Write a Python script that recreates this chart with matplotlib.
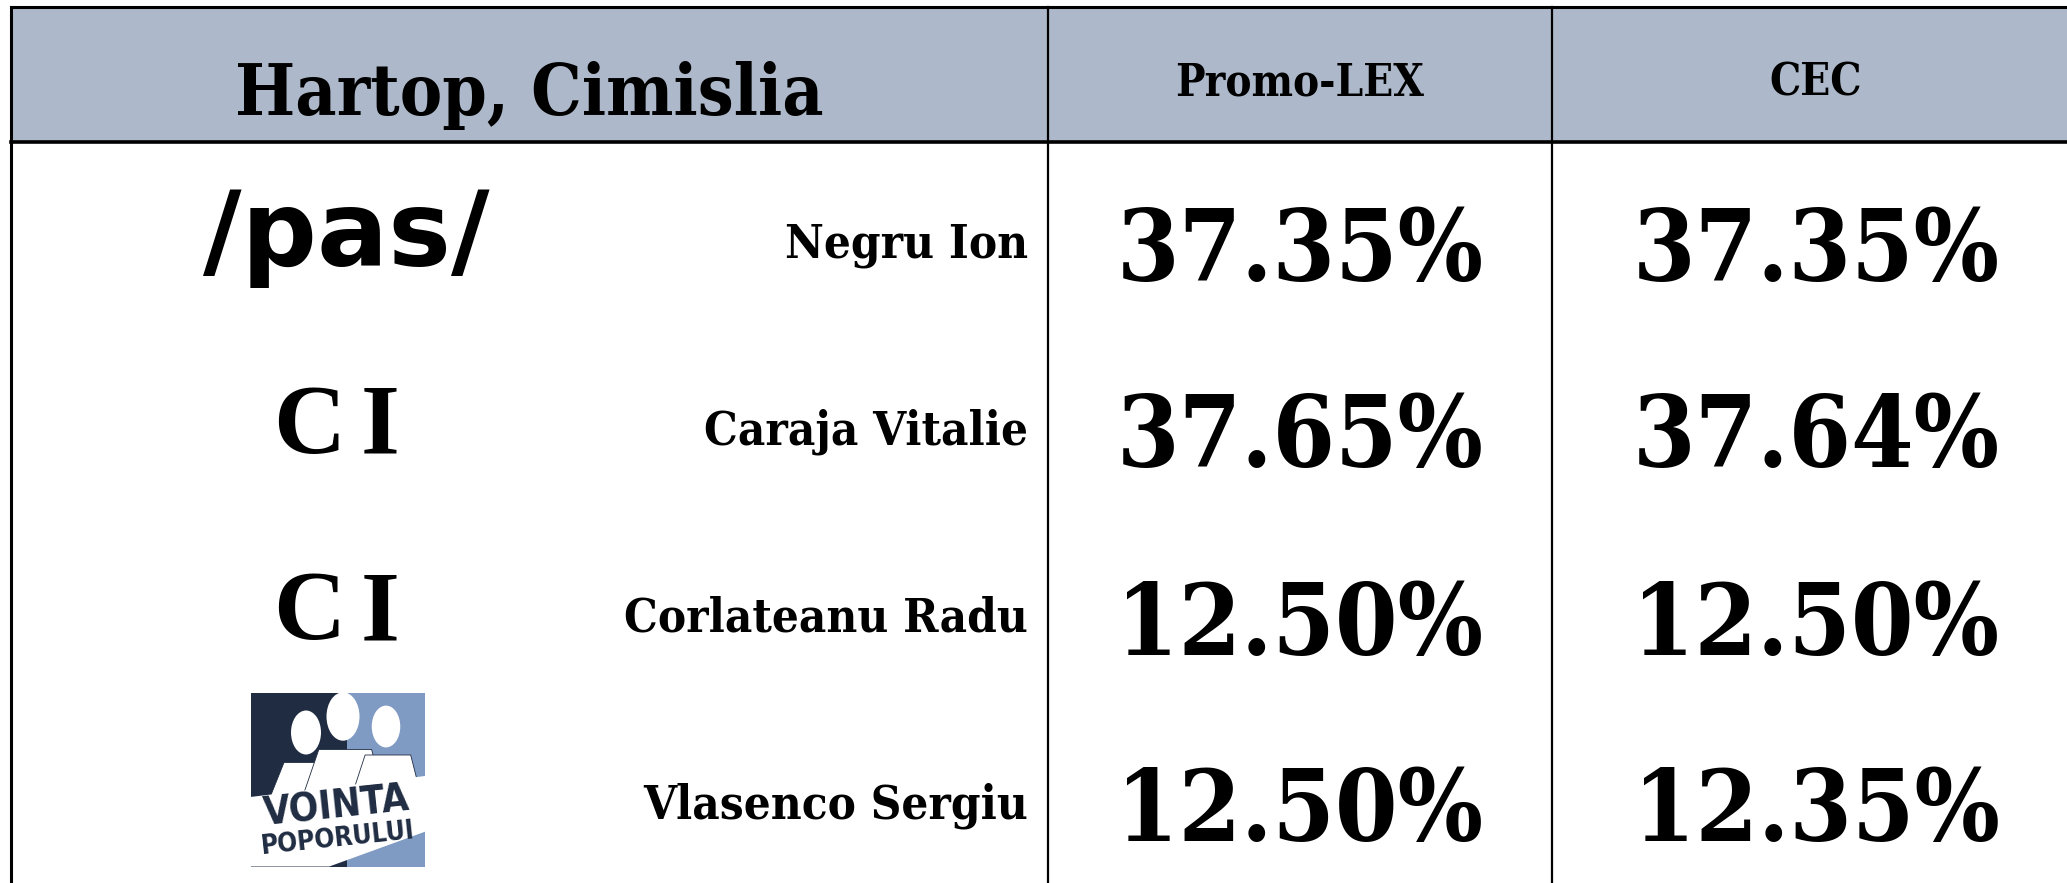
import matplotlib
matplotlib.use('Agg')
import matplotlib.pyplot as plt
from matplotlib.patches import Rectangle, Polygon, Ellipse

# Данные таблицы
title = 'Hartop, Cimislia'
sources = ['Promo-LEX', 'CEC']
candidates = ['Negru Ion', 'Caraja Vitalie', 'Corlateanu Radu', 'Vlasenco Sergiu']
parties = ['PAS', 'CI', 'CI', 'VP']
promolex = [37.35, 37.65, 12.50, 12.50]
cec = [37.35, 37.64, 12.50, 12.35]

W, H = 2067, 883
HEADER_COLOR = '#ADB9CA'
NAVY = '#1F2C42'
LIGHT_BLUE = '#7F9BC3'
SERIF = dict(family='DejaVu Serif', fontweight='bold', fontstretch='condensed')

fig = plt.figure(figsize=(W / 100, H / 100), dpi=100)
fig.patch.set_facecolor('white')
ax = fig.add_axes([0, 0, 1, 1])
ax.set_xlim(0, W)
ax.set_ylim(H, 0)
ax.axis('off')

# Геометрия таблицы (в пикселях)
x_left, x_c1, x_c2, x_right = 11, 1048, 1552, 2080
y_top, y_head = 7, 142
row_h = 187
logo_x = 337

# Шапка
ax.add_patch(Rectangle((x_left, y_top), x_right - x_left, y_head - y_top,
                       facecolor=HEADER_COLOR, edgecolor='none', zorder=1))
ax.text((x_left + x_c1) / 2, 115, title, ha='center', va='baseline', fontsize=51, **SERIF)
col_centers = [(x_c1 + x_c2) / 2, (x_c2 + x_right) / 2]
for cx, src in zip(col_centers, sources):
    ax.text(cx, 95, src, ha='center', va='baseline', fontsize=31.5, **SERIF)

# Линии
ax.plot([x_left, x_left], [y_top, H], color='black', lw=2.2, zorder=5)
ax.plot([x_left, W], [y_top, y_top], color='black', lw=2.2, zorder=5)
ax.plot([x_left, W], [y_head, y_head], color='black', lw=2.6, zorder=5)
for xv in [x_c1, x_c2]:
    ax.plot([xv, xv], [y_top, H], color='black', lw=1.6, zorder=5)


def draw_pas(cy):
    ax.text(logo_x + 9, cy + 30, '/pas/', ha='center', va='baseline',
            fontsize=76, fontweight='bold', family='DejaVu Sans')


def draw_ci(cy):
    ax.text(logo_x - 28, cy + 30, 'C', ha='center', va='baseline',
            fontsize=72, fontweight='bold', family='Liberation Serif')
    ax.text(logo_x + 43, cy + 30, 'I', ha='center', va='baseline',
            fontsize=72, fontweight='bold', family='Liberation Serif')


def draw_vp(cy):
    # логотип "Vointa Poporului" — упрощённо
    x0, y0, s = 251, cy - 104, 174
    ax.add_patch(Rectangle((x0, y0), s * 0.55, s, facecolor=NAVY, zorder=2))
    ax.add_patch(Rectangle((x0 + s * 0.55, y0), s * 0.45, s, facecolor=LIGHT_BLUE, zorder=2))
    # силуэты
    for hx, hy, r in [(x0 + 55, y0 + 40, 20), (x0 + 92, y0 + 24, 22), (x0 + 135, y0 + 34, 19)]:
        ax.add_patch(Polygon([(hx - r * 2.0, y0 + s * 0.66), (hx - r * 1.1, hy + r * 1.5),
                              (hx + r * 1.3, hy + r * 1.5), (hx + r * 2.0, y0 + s * 0.66)],
                             facecolor='white', edgecolor=NAVY, lw=0.6, zorder=3))
        ax.add_patch(Ellipse((hx, hy), r * 1.5, r * 2.2, facecolor='white', zorder=3))
    # белая полоса
    ax.add_patch(Polygon([(x0, y0 + s * 0.6), (x0 + s, y0 + s * 0.48), (x0 + s, y0 + s * 0.8),
                          (x0 + s * 0.45, y0 + s), (x0, y0 + s)],
                         facecolor='white', zorder=3))
    ax.text(x0 + s * 0.49, y0 + s * 0.66, 'VOINTA', ha='center', va='center', rotation=6,
            fontsize=28, fontweight='heavy', color=NAVY, family='DejaVu Sans',
            fontstretch='condensed', zorder=4)
    ax.text(x0 + s * 0.5, y0 + s * 0.84, 'POPORULUI', ha='center', va='center', rotation=6,
            fontsize=19, fontweight='bold', color=NAVY, family='DejaVu Sans',
            fontstretch='condensed', zorder=4)


logos = {'PAS': draw_pas, 'CI': draw_ci, 'VP': draw_vp}

# Строки
for i, (name, party, p1, p2) in enumerate(zip(candidates, parties, promolex, cec)):
    cy = y_head + row_h * (i + 0.5)
    logos[party](cy)
    ax.text(1028, cy + 22, name, ha='right', va='baseline', fontsize=34, **SERIF)
    for cx, v in zip(col_centers, [p1, p2]):
        ax.text(cx, cy + 45, f'{v:.2f}%', ha='center', va='baseline', fontsize=72, **SERIF)

fig.savefig('out.png', dpi=100, facecolor='white')
